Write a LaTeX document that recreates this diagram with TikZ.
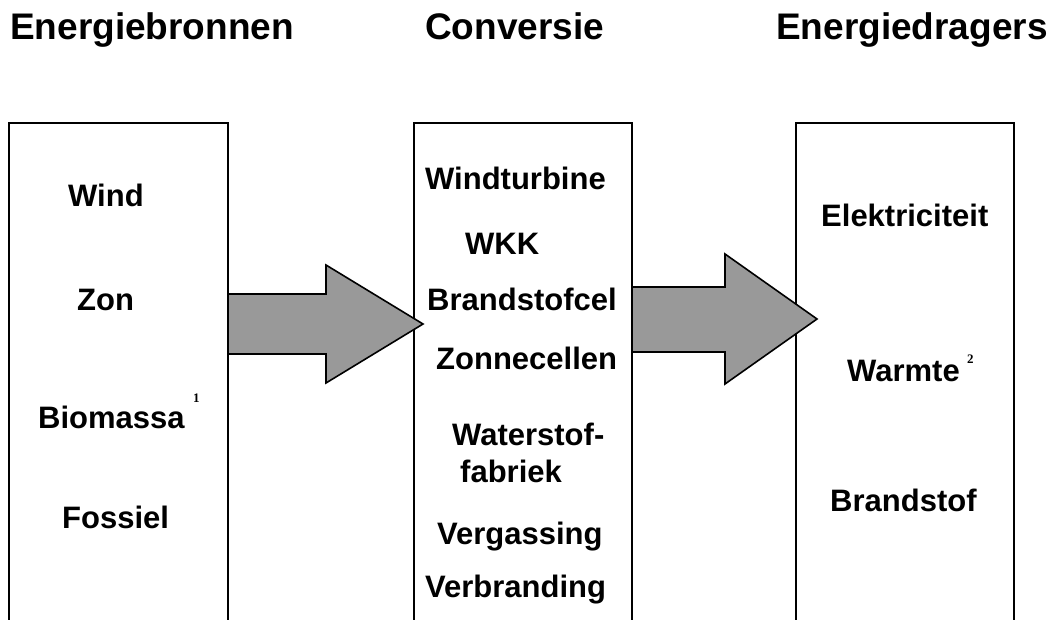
\documentclass[tikz,border=0pt]{standalone}
\usepackage{fontspec}
\setmainfont{Liberation Sans}
\newfontfamily\nootfont{Liberation Serif}
\usepackage{xcolor}
\usetikzlibrary{positioning}

\definecolor{pijlgrijs}{HTML}{999999}

\tikzset{
  kop/.style={anchor=base west, inner sep=0pt, font=\fontsize{37}{44}\selectfont\bfseries},
  item/.style={anchor=base west, inner sep=0pt, font=\fontsize{31}{37}\selectfont\bfseries},
  noot/.style={anchor=base west, inner sep=0pt, font=\nootfont\fontsize{13}{15}\selectfont\bfseries},
  kolom/.style={line width=1.8pt},
  blokpijl/.style={draw, line width=1.6pt, fill=pijlgrijs, line join=miter}
}

\begin{document}
\begin{tikzpicture}[x=1pt, y=-1pt]
  \useasboundingbox (0,0) rectangle (1049,620);
  \clip (0,0) rectangle (1049,620);
  % headings
  \node[kop] (bronnen) at (10,40) {Energiebronnen};
  \node[kop] (conversie) at (425,40) {Conversie};
  \node[kop] (dragers) at (776,40) {Energiedragers};
  % columns (open at the bottom)
  \draw[kolom] (9,630) |- (228,123) -- (228,630);
  \draw[kolom] (414,630) |- (632,123) -- (632,630);
  \draw[kolom] (796,630) |- (1014,123) -- (1014,630);
  % sources
  \node[item] (wind) at (68,207) {Wind};
  \node[item] (zon) at (77,310) {Zon};
  \node[item] (biomassa) at (38,428) {Biomassa};
  \node[noot] (noot1) at (193,402) {1};
  \node[item] (fossiel) at (62,528) {Fossiel};
  % conversion
  \node[item] (turbine) at (425,190) {Windturbine};
  \node[item] (wkk) at (465,255) {WKK};
  \node[item] (cel) at (427,310) {Brandstofcel};
  \node[item] (zonnecel) at (436,369) {Zonnecellen};
  \node[item] (waterstof) at (452,445) {Waterstof-};
  \node[item] (fabriek) at (460,482) {fabriek};
  \node[item] (vergassing) at (437,544) {Vergassing};
  \node[item] (verbranding) at (425,597) {Verbranding};
  % carriers
  \node[item] (elek) at (821,227) {Elektriciteit};
  \node[item] (warmte) at (847,381) {Warmte};
  \node[noot] (noot2) at (967,363) {2};
  \node[item] (brandstof) at (830,511) {Brandstof};
  % block arrows
  \draw[blokpijl] (228,294) -- (326,294) -- (326,265) -- (423,324)
    -- (326,383) -- (326,354) -- (228,354) -- cycle;
  \draw[blokpijl] (632,287) -- (725,287) -- (725,254) -- (817,319)
    -- (725,384) -- (725,352) -- (632,352) -- cycle;
\end{tikzpicture}
\end{document}
